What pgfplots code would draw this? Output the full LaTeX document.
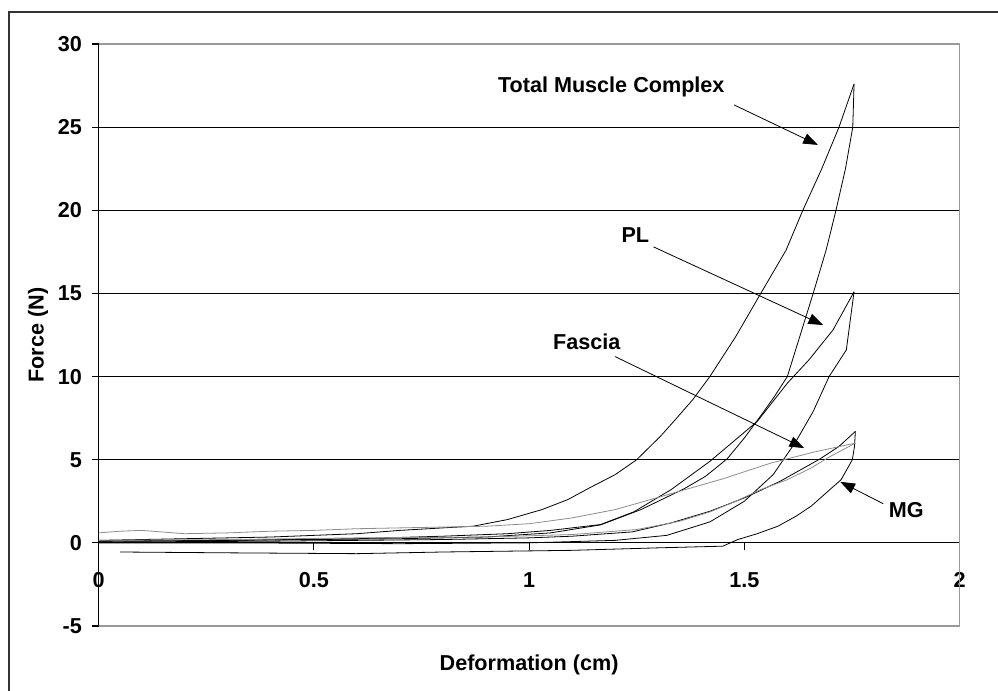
\documentclass[border=0pt]{standalone}
\usepackage{pgfplots}
\pgfplotsset{compat=1.18}
\usetikzlibrary{arrows.meta}
\usepackage{fontspec}
\setmainfont{Liberation Sans}

\begin{document}
\begin{tikzpicture}[font=\fontsize{16.2}{19}\selectfont\bfseries]
\useasboundingbox (-73.9pt,-48.75pt) rectangle (674.6pt,469.5pt);
\draw[line width=1.3pt, black!80] (-67.1pt,-80pt) -- (-67.1pt,460.5pt) -- (720pt,460.5pt);
\begin{axis}[
  scale only axis, width=645.75pt, height=436.5pt,
  xmin=0, xmax=2, ymin=-5, ymax=30,
  axis x line=middle, axis y line=left,
  axis line style={-, line width=0.9pt, black},
  xtick={0,0.5,1,1.5,2}, ytick={-5,0,5,10,15,20,25,30},
  xticklabels={0,0.5,1,1.5,2}, yticklabels={-5,0,5,10,15,20,25,30},
  tick align=outside, major tick length=5pt,
  tick style={black, line width=0.8pt},
  ymajorgrids, grid style={black, line width=0.9pt},
  xticklabel style={anchor=north, yshift=-14pt},
  yticklabel style={anchor=east, xshift=-4pt},
  clip=false,
  every axis plot/.append style={line width=0.6pt},
]
% Total Muscle Complex - loading
\addplot[black] coordinates {(0,0.15)(0.1,0.2)(0.2,0.25)(0.3,0.3)(0.4,0.35)(0.5,0.45)(0.6,0.55)(0.7,0.75)(0.8,0.9)(0.87,1.0)(0.95,1.4)(1.03,2.0)(1.09,2.6)(1.14,3.3)(1.2,4.1)(1.25,5.0)(1.305,6.4)(1.336,7.3)(1.38,8.6)(1.42,10)(1.48,12.4)(1.536,14.9)(1.597,17.6)(1.636,20)(1.68,22.5)(1.72,25)(1.755,27.6)};
% Total Muscle Complex - unloading
\addplot[black] coordinates {(1.755,27.6)(1.752,25)(1.735,22.5)(1.713,20)(1.69,17.6)(1.66,15)(1.63,12.5)(1.6,10)(1.57,8.8)(1.544,7.85)(1.5,6.3)(1.46,5.05)(1.41,4.0)(1.36,3.25)(1.26,2.0)(1.166,1.08)(1.05,0.6)(0.9,0.35)(0.7,0.25)(0.5,0.2)(0.3,0.15)(0,0.1)};
% PL - loading
\addplot[black] coordinates {(0,0.1)(0.3,0.15)(0.6,0.25)(0.8,0.4)(0.95,0.55)(1.05,0.75)(1.166,1.1)(1.243,1.86)(1.33,3.2)(1.42,4.9)(1.53,7.3)(1.6,9.6)(1.65,11.0)(1.706,12.8)(1.755,15.1)};
% PL - unloading
\addplot[black] coordinates {(1.755,15.1)(1.737,11.6)(1.697,10)(1.66,7.9)(1.62,6.1)(1.567,4.1)(1.5,2.5)(1.42,1.26)(1.32,0.45)(1.2,0.15)(1.0,0.0)(0.7,-0.05)(0.3,0.0)(0,0.0)};
% MG - loading
\addplot[black] coordinates {(0,0.05)(0.4,0.1)(0.8,0.2)(1.0,0.3)(1.1,0.4)(1.24,0.66)(1.33,1.2)(1.42,1.9)(1.5,2.7)(1.583,3.7)(1.676,5.05)(1.72,5.8)(1.758,6.7)};
% MG - unloading
\addplot[black] coordinates {(1.758,6.7)(1.756,5.8)(1.751,5)(1.725,3.8)(1.69,3.0)(1.655,2.2)(1.62,1.6)(1.578,1.0)(1.53,0.55)(1.485,0.2)(1.45,-0.2)(1.3,-0.3)(1.1,-0.45)(0.8,-0.55)(0.6,-0.65)(0.3,-0.6)(0.05,-0.55)};
% Fascia - loading
\addplot[black!45] coordinates {(0,0.6)(0.05,0.7)(0.1,0.75)(0.15,0.65)(0.2,0.55)(0.3,0.6)(0.4,0.7)(0.5,0.75)(0.6,0.85)(0.7,0.9)(0.8,0.95)(0.9,1.0)(1.0,1.15)(1.1,1.5)(1.2,2.0)(1.305,2.77)(1.45,3.85)(1.562,4.8)(1.66,5.45)(1.758,6.0)};
% Fascia - unloading
\addplot[black!45] coordinates {(1.758,6.0)(1.7,5.2)(1.655,4.5)(1.6,3.8)(1.538,3.2)(1.48,2.5)(1.42,1.86)(1.35,1.3)(1.25,0.8)(1.1,0.5)(0.9,0.35)(0.6,0.3)(0.3,0.2)(0,0.15)};
% plot area border
\draw[black!40, line width=0.9pt] (0,-5) -- (2,-5) -- (2,30) -- (0,30);
% x tick label at the origin
\node at (0,-2.22) {0};
% annotations
\node at (1.191,27.42) {Total Muscle Complex};
\node at (1.247,18.52) {PL};
\node at (1.134,12.1) {Fascia};
\node at (1.876,1.98) {MG};
\draw[line width=0.6pt, -{Triangle[length=11pt,width=8pt]}] (1.476,26.34) -- (1.671,23.93);
\draw[line width=0.6pt, -{Triangle[length=11pt,width=8pt]}] (1.289,17.8) -- (1.683,13.1);
\draw[line width=0.6pt, -{Triangle[length=11pt,width=8pt]}] (1.2,11.2) -- (1.639,5.7);
\draw[line width=0.6pt, -{Triangle[length=11pt,width=8pt]}] (1.823,2.35) -- (1.723,3.67);
\end{axis}
\node[rotate=90] at (-45.4pt,218.25pt) {Force (N)};
\node at (322.9pt,-29.25pt) {Deformation (cm)};
\end{tikzpicture}
\end{document}
